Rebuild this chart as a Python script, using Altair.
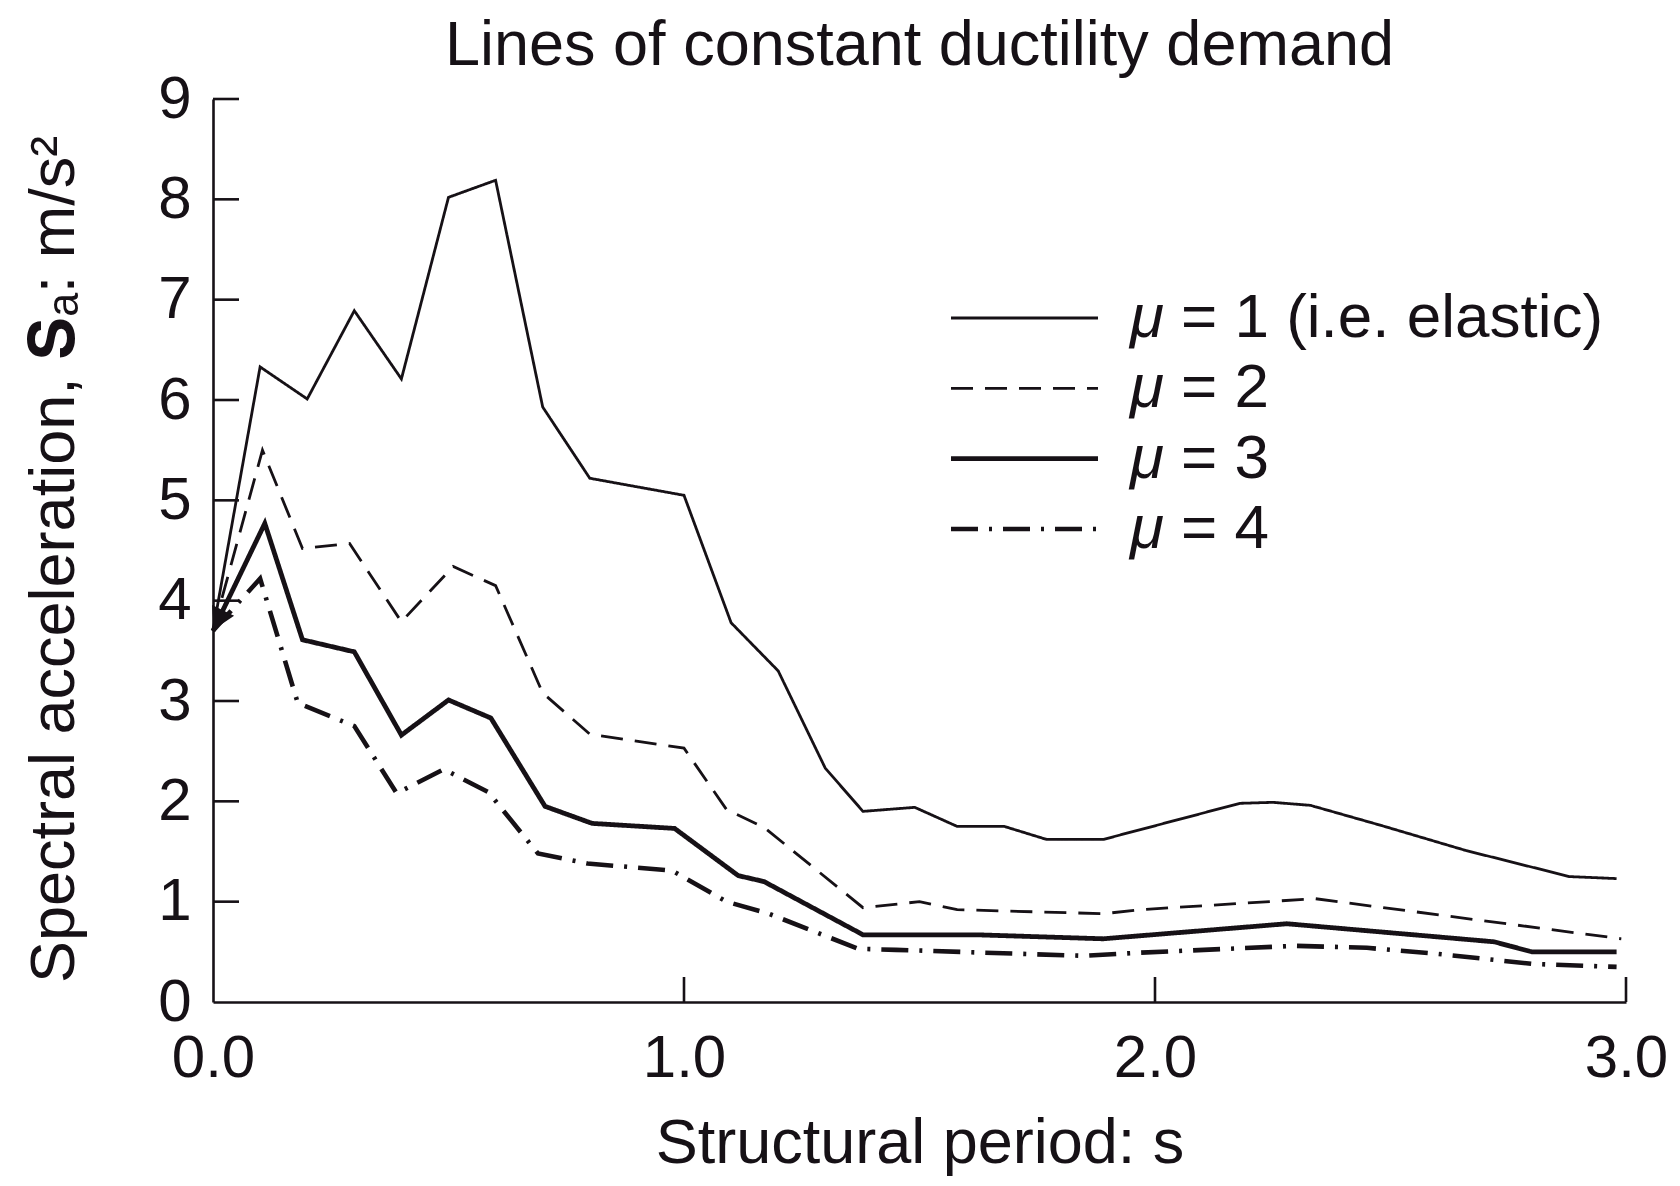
import altair as alt
import pandas as pd

# ---- data ----
KEYS = ["mu1", "mu2", "mu3", "mu4"]
LEG_SYMBOL = ["\u03bc", "\u03bc", "\u03bc", "\u03bc"]
LEG_REST = ["= 1 (i.e. elastic)", "= 2", "= 3", "= 4"]

T1 = [0.0, 0.1, 0.2, 0.3, 0.4, 0.5, 0.6, 0.7, 0.8, 1.0, 1.1, 1.2, 1.3, 1.38, 1.49, 1.58, 1.68, 1.77, 1.89, 2.18, 2.25, 2.33, 2.48, 2.66, 2.88, 2.98]
S1 = [3.70, 6.33, 6.01, 6.89, 6.21, 8.02, 8.19, 5.93, 5.22, 5.05, 3.78, 3.30, 2.33, 1.90, 1.94, 1.75, 1.75, 1.62, 1.62, 1.98, 1.99, 1.96, 1.76, 1.51, 1.25, 1.23]

T2 = [0.0, 0.105, 0.19, 0.29, 0.40, 0.51, 0.60, 0.70, 0.80, 1.00, 1.09, 1.17, 1.38, 1.50, 1.58, 1.89, 1.97, 2.34, 2.99]
S2 = [3.70, 5.50, 4.52, 4.57, 3.79, 4.34, 4.15, 3.08, 2.67, 2.53, 1.92, 1.74, 0.94, 1.00, 0.92, 0.88, 0.92, 1.03, 0.63]

T3 = [0.0, 0.11, 0.19, 0.30, 0.40, 0.50, 0.59, 0.705, 0.805, 0.98, 1.115, 1.17, 1.38, 1.62, 1.89, 2.28, 2.72, 2.80, 2.98]
S3 = [3.70, 4.77, 3.61, 3.49, 2.66, 3.01, 2.83, 1.95, 1.78, 1.73, 1.26, 1.20, 0.67, 0.67, 0.63, 0.78, 0.60, 0.50, 0.50]

T4 = [0.0, 0.10, 0.18, 0.30, 0.39, 0.49, 0.585, 0.69, 0.795, 0.975, 1.09, 1.18, 1.37, 1.45, 1.85, 1.96, 2.30, 2.45, 2.60, 2.80, 2.98]
S4 = [3.70, 4.22, 2.98, 2.75, 2.08, 2.32, 2.09, 1.48, 1.38, 1.31, 1.00, 0.88, 0.53, 0.52, 0.46, 0.49, 0.56, 0.54, 0.48, 0.38, 0.35]

Y_TICKS = [0, 1, 2, 3, 4, 5, 6, 7, 8, 9]
X_TICKS = [0.0, 1.0, 2.0, 3.0]

# ---- tables ----
rows = []
for key, ts, ss in zip(KEYS, [T1, T2, T3, T4], [S1, S2, S3, S4]):
    for t, s in zip(ts, ss):
        rows.append({"mu": key, "T": t, "Sa": s})
df = pd.DataFrame(rows)

ytick_df = pd.DataFrame({"v": [v for v in Y_TICKS if v > 0]})
xtick_df = pd.DataFrame({"v": [v for v in X_TICKS if v > 0]})
arrow_df = pd.DataFrame({"T": [T3[0]], "Sa": [S3[0]]})
leg_df = pd.DataFrame({"mu": KEYS, "row": list(range(len(KEYS))),
                       "sym": LEG_SYMBOL, "rest": LEG_REST})

INK = "#161116"
FONT = "Liberation Sans"
W, H = 1413, 903
X_TITLE = "Structural period: s"
Y_TITLE = "Spectral acceleration, \U0001D412\u2090: m/s\u00b2"

xs = alt.Scale(domain=[0, 3], nice=False, zero=True)
ys = alt.Scale(domain=[0, 9], nice=False, zero=True)
dash = alt.Scale(domain=KEYS, range=[[1, 0], [22, 12], [1, 0], [27, 11, 3, 11]])
widths = alt.Scale(type="ordinal", domain=KEYS, range=[2.8, 2.8, 4.8, 4.6])
rowscale = alt.Scale(domain=[0, 3], range=[219, 430], nice=False, zero=False)

x_axis = alt.Axis(values=X_TICKS, format=".1f", ticks=False, tickSize=0, grid=False,
                  labelFontSize=60, labelFont=FONT, labelColor=INK, labelPadding=27,
                  labelFlush=False, labelOverlap=False,
                  domainColor=INK, domainWidth=2.6,
                  title=X_TITLE, titleFont=FONT, titleFontSize=63,
                  titleFontWeight="normal", titleColor=INK,
                  titleBaseline="alphabetic", titleY=160)
y_axis = alt.Axis(values=Y_TICKS, format="d", ticks=False, tickSize=0, grid=False,
                  labelFontSize=60, labelFont=FONT, labelColor=INK, labelPadding=22,
                  labelFlush=False, labelOverlap=False,
                  domainColor=INK, domainWidth=2.6,
                  title=Y_TITLE, titleFont=FONT,
                  titleFontSize=63, titleFontWeight="normal", titleColor=INK,
                  titleAngle=270, titleBaseline="alphabetic", titleX=-140,
                  titleY=460, titleAlign="center")

lines = alt.Chart(df).mark_line(color=INK, strokeJoin="miter").encode(
    x=alt.X("T:Q", scale=xs, axis=x_axis, title=X_TITLE),
    y=alt.Y("Sa:Q", scale=ys, axis=y_axis, title=Y_TITLE),
    detail="mu:N",
    strokeDash=alt.StrokeDash("mu:N", scale=dash, legend=None),
    strokeWidth=alt.StrokeWidth("mu:N", scale=widths, legend=None),
)

yticks = alt.Chart(ytick_df).mark_rule(color=INK, strokeWidth=2.6).encode(
    x=alt.value(0), x2=alt.value(26),
    y=alt.Y("v:Q", scale=ys, axis=y_axis, title=Y_TITLE),
)
xticks = alt.Chart(xtick_df).mark_rule(color=INK, strokeWidth=2.6).encode(
    x=alt.X("v:Q", scale=xs, axis=x_axis, title=X_TITLE),
    y=alt.value(H), y2=alt.value(H - 25),
)
arrow = alt.Chart(arrow_df).mark_point(shape="triangle", filled=True, size=600, angle=206,
                                       color=INK, opacity=1, xOffset=7, yOffset=-14).encode(
    x=alt.X("T:Q", scale=xs, axis=x_axis, title=X_TITLE),
    y=alt.Y("Sa:Q", scale=ys, axis=y_axis, title=Y_TITLE),
)

base = alt.layer(lines, yticks, xticks, arrow)

leg_rules = alt.Chart(leg_df).mark_rule(color=INK).encode(
    x=alt.value(738), x2=alt.value(885),
    y=alt.Y("row:Q", scale=rowscale, axis=None),
    strokeDash=alt.StrokeDash("mu:N", scale=dash, legend=None),
    strokeWidth=alt.StrokeWidth("mu:N", scale=widths, legend=None),
)
leg_sym = alt.Chart(leg_df).mark_text(align="left", baseline="middle", fontSize=62, font=FONT,
                                      fontStyle="italic", color=INK).encode(
    x=alt.value(917),
    y=alt.Y("row:Q", scale=rowscale, axis=None),
    text="sym:N",
)
leg_text = alt.Chart(leg_df).mark_text(align="left", baseline="middle", fontSize=62, font=FONT,
                                       color=INK).encode(
    x=alt.value(968),
    y=alt.Y("row:Q", scale=rowscale, axis=None),
    text="rest:N",
)

chart = alt.layer(base, leg_rules, leg_sym, leg_text).resolve_scale(y="independent").properties(
    width=W, height=H,
    padding={"left": 205, "top": 91, "right": 44, "bottom": 176},
    autosize=alt.AutoSizeParams(type="none"),
    background="white",
    title=alt.TitleParams("Lines of constant ductility demand", font=FONT, fontSize=63,
                          fontWeight="normal", color=INK, anchor="middle", frame="group",
                          offset=0, dy=9),
).configure_view(stroke=None)

chart.save("out.html", embed_options={"renderer": "svg", "actions": False})
